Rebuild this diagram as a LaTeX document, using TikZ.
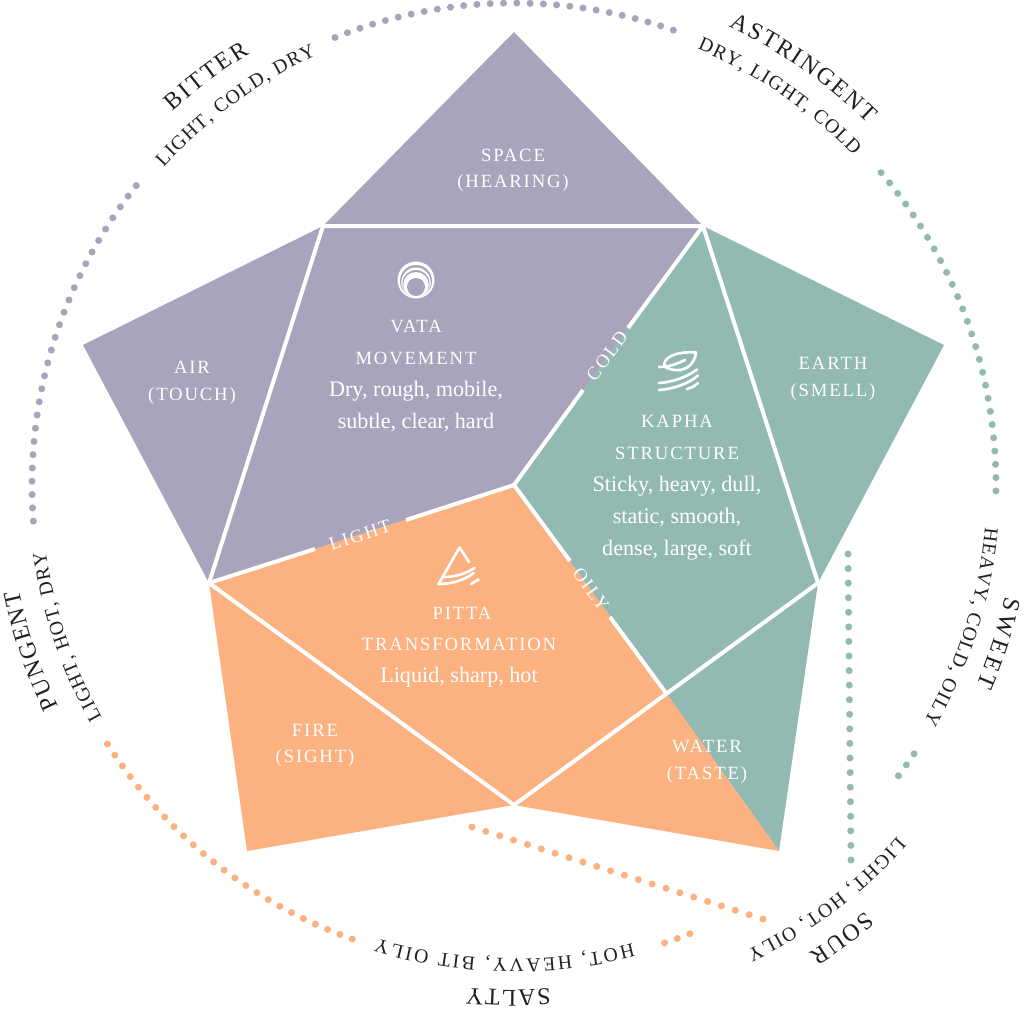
\documentclass[tikz,border=0pt]{standalone}
\usepackage{fontspec}
\usetikzlibrary{decorations.text}
\setmainfont{Liberation Serif}
\newfontfamily\spacedfamily[LetterSpace=10]{Liberation Serif}
\newcommand{\capsfont}{\spacedfamily\fontsize{14}{17}\selectfont}
\newcommand{\bodyfont}{\rmfamily\fontsize{16.6}{20}\selectfont}
\newcommand{\namefont}{\rmfamily\fontsize{18}{21}\selectfont}
\newcommand{\propfont}{\rmfamily\fontsize{14.8}{17}\selectfont}
\definecolor{vatacol}{HTML}{A9A3BC}
\definecolor{kaphacol}{HTML}{92B9B2}
\definecolor{pittacol}{HTML}{FBB180}
\definecolor{inkcol}{HTML}{231F20}
\tikzset{
  seam/.style={draw=white,line width=3pt},
  iconline/.style={draw=white,line width=2pt,line cap=round,line join=round},
  capslabel/.style={text=white,anchor=base,font=\capsfont,inner sep=0pt},
  bodylabel/.style={text=white,anchor=base,font=\bodyfont,inner sep=0pt},
  edgelabel/.style={text=white,anchor=center,font=\capsfont,inner sep=0pt},
}
% a run of text set along a circle, clockwise on the page, letters spaced to fill the arc
\newcommand{\arctext}[6]{%
  \path[decorate,decoration={text along path,text align={fit to path},
    text color=inkcol,text={|#5|#6}}]
    ([shift={(#3:#2)}]#1) arc[start angle=#3,end angle=#4,radius=#2];}
% a dotted arc on the circle round the centre
\newcommand{\dotarc}[4]{%
  \foreach \k in {0,...,#3}{%
    \pgfmathsetmacro{\ang}{#1+\k*(#2-#1)/#3}%
    \fill[#4] ([shift={(\ang:482)}]hub) circle[radius=3.5];}}
% a dotted straight run between two named points
\newcommand{\dotline}[4]{%
  \foreach \k in {0,...,#3}{%
    \pgfmathsetmacro{\frac}{\k/#3}%
    \path (#1) -- (#2) coordinate[pos=\frac] (dotpos);
    \fill[#4] (dotpos) circle[radius=3.5];}}
\begin{document}
\begin{tikzpicture}[x=0.75pt,y=-0.75pt]
\useasboundingbox (0,0) rectangle (1024,1008);
\coordinate (hub) at (514,485);
\coordinate (sourhub) at (542,524);
% outer star points
\coordinate (ptop) at (514,32);
\coordinate (pright) at (944,345);
\coordinate (pbr) at (779,851);
\coordinate (pbl) at (247,851);
\coordinate (pleft) at (83,345);
% inner pentagon
\coordinate (ia) at (323,226);
\coordinate (ib) at (703,226);
\coordinate (ic) at (818,583);
\coordinate (id) at (514,805);
\coordinate (ie) at (209,583);
\coordinate (ikp) at (666,693);

% coloured fields
\fill[vatacol] (ptop) -- (ib) -- (ia) -- cycle;
\fill[vatacol] (ia) -- (ib) -- (hub) -- (ie) -- cycle;
\fill[vatacol] (ia) -- (ie) -- (pleft) -- cycle;
\fill[kaphacol] (ib) -- (pright) -- (ic) -- cycle;
\fill[kaphacol] (ib) -- (ic) -- (ikp) -- (hub) -- cycle;
\fill[kaphacol] (ic) -- (pbr) -- (ikp) -- cycle;
\fill[pittacol] (hub) -- (ikp) -- (id) -- (ie) -- cycle;
\fill[pittacol] (ie) -- (id) -- (pbl) -- cycle;
\fill[pittacol] (ikp) -- (pbr) -- (id) -- cycle;

% white seams
\draw[seam] (ia) -- (ib) -- (ic) -- (id) -- (ie) -- cycle;
\coordinate (coldA) at (583,390);
\coordinate (coldB) at (628,328);
\coordinate (lightA) at (315,549);
\coordinate (lightB) at (406,520);
\coordinate (oilyA) at (570,561);
\coordinate (oilyB) at (610,617);
\draw[seam] (hub) -- (coldA);
\draw[seam] (coldB) -- (ib);
\draw[seam] (ie) -- (lightA);
\draw[seam] (lightB) -- (hub);
\draw[seam] (hub) -- (oilyA);
\draw[seam] (oilyB) -- (ikp);

% labels on the seams
\node[edgelabel,rotate=54] (coldlabel) at (607,356) {COLD};
\node[edgelabel,rotate=18] (lightlabel) at (360,535) {LIGHT};
\node[edgelabel,rotate=-54] (oilylabel) at (591,589) {OILY};

% field labels
\node[capslabel] (space) at (513,161) {SPACE};
\node[capslabel] (hearing) at (513,187) {(HEARING)};
\node[capslabel] (air) at (192,373) {AIR};
\node[capslabel] (touch) at (192,400) {(TOUCH)};
\node[capslabel] (earth) at (833,369) {EARTH};
\node[capslabel] (smell) at (833,396) {(SMELL)};
\node[capslabel] (fire) at (315,736) {FIRE};
\node[capslabel] (sight) at (315,762) {(SIGHT)};
\node[capslabel] (water) at (707,752) {WATER};
\node[capslabel] (taste) at (707,779) {(TASTE)};

\node[capslabel] (vata) at (416,332) {VATA};
\node[capslabel] (movement) at (416,364) {MOVEMENT};
\node[bodylabel] (vataA) at (416,396) {Dry, rough, mobile,};
\node[bodylabel] (vataB) at (416,428) {subtle, clear, hard};

\node[capslabel] (kapha) at (677,427) {KAPHA};
\node[capslabel] (structure) at (677,459) {STRUCTURE};
\node[bodylabel] (kaphaA) at (677,491) {Sticky, heavy, dull,};
\node[bodylabel] (kaphaB) at (677,523) {static, smooth,};
\node[bodylabel] (kaphaC) at (677,555) {dense, large, soft};

\node[capslabel] (pitta) at (462,619) {PITTA};
\node[capslabel] (transformation) at (459,650) {TRANSFORMATION};
\node[bodylabel] (pittaA) at (459,682) {Liquid, sharp, hot};

% vata icon: nested discs that crowd together at the foot
\fill[white] (416,280) circle[radius=18.5];
\fill[vatacol] (416,281) circle[radius=16];
\fill[white] (416,282.25) circle[radius=14.75];
\fill[vatacol] (416,283.5) circle[radius=13.5];
\fill[white] (416,284.75) circle[radius=12.75];
\fill[vatacol] (416,287) circle[radius=9];

% kapha icon: leaf above wind strokes
\draw[iconline] (665,367) .. controls (661,358) and (676,351) .. (696,352.5)
  .. controls (695,364) and (684,376) .. (665,367);
\draw[iconline] (659,367) .. controls (668,367) and (677,364) .. (685,360);
\draw[iconline] (659,383) .. controls (673,382) and (687,377) .. (697,369.5);
\draw[iconline] (659,390) .. controls (673,389) and (688,384) .. (698,375.5);
\draw[iconline] (687,389) .. controls (691,388) and (695,386) .. (698,383);

% pitta icon: wedge with heat arcs
\draw[iconline] (469,562) -- (459.5,547.5) -- (438.5,584) .. controls (452,584) and (465,580) .. (473.5,573);
\draw[iconline] (444.5,577) .. controls (456,577) and (467,573) .. (474.5,568);
\draw[iconline] (471,584) -- (478.5,579.5);

% dotted rings
\dotarc{248.2}{289.3}{26}{vatacol}
\dotarc{218.4}{175.7}{27}{vatacol}
\dotarc{319.6}{360.7}{26}{kaphacol}
\dotarc{33.9}{37.1}{2}{kaphacol}
\dotarc{68.6}{71.8}{2}{pittacol}
\dotarc{109.6}{147.5}{24}{pittacol}
\coordinate (gtop) at (848,554);
\coordinate (gbot) at (851,860);
\coordinate (otop) at (472,827);
\coordinate (obot) at (763,919);
\dotline{gtop}{gbot}{21}{kaphacol}
\dotline{otop}{obot}{21}{pittacol}

% tastes round the ring
\arctext{hub}{506}{227.6}{238.5}{\namefont}{BITTER}
\arctext{hub}{473}{222.2}{245.3}{\propfont}{LIGHT, COLD, DRY}
\arctext{hub}{506}{295.1}{314.4}{\namefont}{ASTRINGENT}
\arctext{hub}{473}{292.8}{315.9}{\propfont}{DRY, LIGHT, COLD}
\arctext{hub}{504}{12.8}{23.4}{\namefont}{SWEET}
\arctext{hub}{473}{5.1}{30}{\propfont}{HEAVY, COLD, OILY}
\arctext{sourhub}{505}{50.1}{58.1}{\namefont}{SOUR}
\arctext{sourhub}{473}{41.3}{64.4}{\propfont}{LIGHT, HOT, OILY}
\arctext{hub}{505}{85.9}{95.4}{\namefont}{SALTY}
\arctext{hub}{474}{75.5}{106.8}{\propfont}{HOT, HEAVY, BIT OILY}
\arctext{hub}{506}{154.1}{168}{\namefont}{PUNGENT}
\arctext{hub}{473}{150.6}{171.9}{\propfont}{LIGHT, HOT, DRY}
\end{tikzpicture}
\end{document}
